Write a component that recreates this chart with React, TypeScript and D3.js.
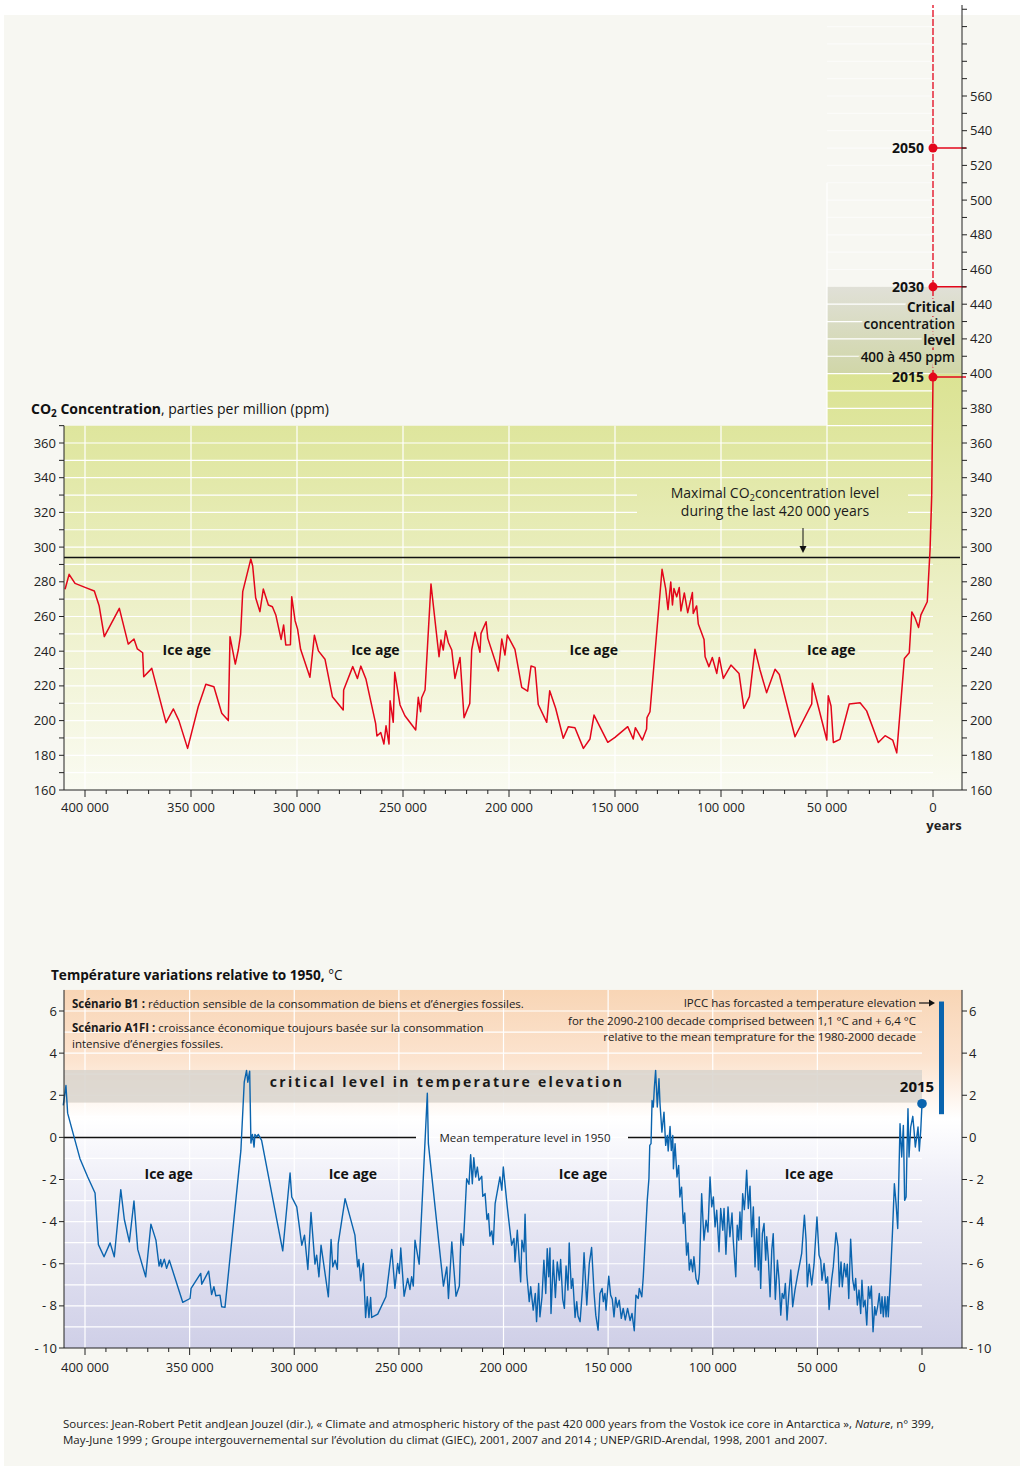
import React from "react";
import * as d3 from "d3";

const FONT = "'Open Sans', 'Noto Sans', sans-serif";

// Vostok CO2, thousands of years before present / ppm
const co2Kyr = [
  409.4, 407.5, 404.7, 400, 395.6, 393.3, 390.9, 383.8, 379.6, 376.9, 375.3, 372.8, 372.3, 368.5,
  361.8, 358.3, 355.7, 351.6, 346.6, 343, 339.2, 335.5, 332.4, 331.6, 329.1, 327.7, 326.6, 325.6,
  321.8, 320.9, 319.5, 317.5, 315.9, 313.5, 311.6, 310, 307.5, 306.3, 305.3, 303.1, 302.5, 300.9,
  299.7, 298.3, 293.9, 291.8, 289.9, 286.8, 283.3, 278.2, 278, 273.7, 271.5, 269.9, 267.5, 262.9,
  262.3, 260.5, 259, 258, 256.6, 256.1, 254.6, 253.9, 251.4, 249.1, 244, 242.8, 241.7, 241.2,
  239.6, 236.8, 233, 232.1, 231, 229.9, 228.6, 227, 225.5, 223.1, 221.2, 218.5, 217.6, 216,
  213.7, 213.2, 210.8, 210, 205, 203.4, 201.9, 200.8, 197.2, 194, 191.2, 189.6, 187.7, 186.2,
  182.2, 180.8, 178, 174.4, 172, 168.9, 164.9, 161.8, 159.9, 153.4, 150, 144, 141.4, 140.4,
  137.1, 135.1, 134.9, 133.5, 127.8, 126.1, 125, 123.7, 122.9, 122.2, 120.9, 119.7, 118.9, 117.3,
  115.7, 113.5, 113.1, 111.5, 110.7, 108, 107.5, 105.7, 104.1, 102, 100.8, 98.9, 95.3, 91.5,
  89.2, 86.6, 84, 81.6, 78.5, 74.5, 72.5, 65.1, 57.2, 56.9, 50.1, 49.4, 48.1, 47, 43.9, 39.5,
  34.4, 31.3, 25.8, 22.6, 19, 17.1, 13.5, 11.2, 10, 8.5, 6.8, 5.7, 2.7, 1.4, 0.6, 0,
];
const co2Ppm = [
  275.7, 284.3, 279.1, 276.8, 274.7, 266, 248.4, 264.7, 244.1, 247, 241.3, 239.1, 225.3, 230.1,
  198.8, 206.7, 200, 184, 208, 220.9, 219.5, 204.2, 200, 248.4, 232.6, 240.7, 249.7, 274.3,
  293.1, 289.1, 270.8, 262.8, 275.8, 266.6, 265.6, 260.9, 246.8, 255.1, 243.6, 243.7, 271.4, 257.6,
  252.6, 241.1, 225, 249.2, 240.2, 235.4, 213.8, 206.1, 217.6, 231.1, 224.3, 231.4, 224, 198.3,
  191.1, 193.1, 186.5, 197, 186.5, 211.5, 199, 227.8, 209, 202.8, 194.6, 213.4, 205.1, 213.2,
  217.6, 278.7, 236.8, 246.5, 240.7, 251.8, 245, 240.7, 224.3, 236.4, 201.7, 209.9, 240.7, 251,
  239.4, 250.3, 257, 247.4, 228.6, 247, 237.8, 249.3, 241.1, 219.2, 217, 231.5, 230.7, 209.3,
  199, 217.2, 207.1, 189.8, 196.5, 195.9, 184, 189.4, 203.2, 187.5, 190.3, 196.5, 189.4, 195.9,
  188.8, 195.1, 201.7, 205.1, 287.2, 276.1, 264, 279.9, 266.6, 276.1, 271.4, 276.7, 263.2, 273.6,
  262.2, 273.8, 261.8, 266.1, 255.7, 246.8, 236.8, 231.1, 236.4, 227.2, 236.4, 224.3, 232, 227.2,
  207.1, 213.8, 241.1, 229.2, 216.1, 229.6, 226.6, 190.7, 209.6, 221.5, 188.8, 214.3, 208.4, 187.4, 189.2, 209.6,
  210.3, 205.6, 187.4, 191.3, 188.8, 181.4, 235.8, 239.1, 262.6, 259.3, 253.7, 260.9, 268.5, 298.3, 330, 398,
];

// measured 2015 level and projections
const projYears = ["2015", "2030", "2050"];
const projPpm = [398, 450, 530];

// Vostok temperature, thousands of years before present / °C relative to 1950
const tempKyr = [
  410.4, 409.1, 408.3, 405.3, 402.4, 398.7, 395.2, 393.6, 390.9, 388, 386, 382.9, 381.2, 378.8,
  376.6, 374.8, 371, 368.5, 366.1, 364.6, 363.8, 363.4, 362.1, 361, 359.7, 353.3, 349.8, 349.3,
  344.7, 344.2, 340.9, 339.5, 338.4, 337.5, 335.5, 334.7, 333.1, 325.5, 323.9, 322.8, 322.2, 321.3,
  320.7, 320, 319.2, 318.8, 317.9, 317.2, 315.6, 305.5, 302, 301.2, 298.8, 296.4, 295.1, 293.5,
  292, 290.1, 289.3, 288.2, 287.2, 283.7, 282.4, 281.6, 280.5, 279.4, 279, 275.7, 271, 269.7,
  269.1, 268.3, 267, 265.9, 265.1, 264.3, 263.5, 263, 260.1, 256.2, 253.4, 251.9, 250.6, 249.8,
  249.1, 247.5, 245.8, 244.7, 243.9, 243.1, 242.3, 240.3, 236.4, 235.9, 228.7, 227.1, 226.3, 224.7,
  222.7, 221.1, 220.3, 219.2, 217.6, 216.5, 215.7, 214.9, 214.2, 213.3, 212.5, 211.7, 210.4, 209.9,
  208.8, 207.9, 207.2, 206.5, 205.6, 204.9, 204, 201.7, 200.8, 200.1, 198.2, 196.1, 195, 194.5,
  193.4, 191.8, 191.2, 190.2, 189.7, 188.9, 187.7, 187, 185.8, 184.8, 184.2, 183.2, 182.6, 181.6,
  180.7, 179.8, 179.1, 178.4, 177.8, 177.3, 176.2, 175.2, 174.3, 173.3, 172.7, 171.7, 170.9, 170.1,
  169.2, 168.6, 167.6, 166.9, 165.8, 165, 164.4, 163.4, 162.3, 161.5, 160.2, 159, 157.9, 156.7,
  155.9, 154.8, 153.9, 152.9, 152.3, 151.5, 151, 149.7, 148.8, 148, 147.2, 146.4, 145.6, 144.7,
  143.7, 142.8, 141.8, 140.7, 139.5, 138.6, 137.5, 136.7, 135.6, 135.1, 133.9, 133.2, 131.3, 130.5,
  130.1, 129.5, 129, 128.4, 127.9, 127.3, 126.5, 125.7, 125.2, 124.3, 123.3, 122.5, 121.7, 121.3,
  120.4, 119.8, 119.1, 118.8, 118, 117.1, 116.3, 115.7, 114.9, 114.1, 113.4, 112.5, 111.8, 111.2,
  110.4, 109.6, 109, 108, 107, 106.4, 105.3, 104.2, 103.2, 102.3, 101.3, 100.5, 99.7, 98.9,
  98.1, 97, 96.2, 95.2, 94.6, 93.7, 92.7, 91.8, 90.8, 90.2, 89, 88.3, 87.6, 87,
  86.4, 85.7, 84.9, 84.4, 83.8, 83, 82.2, 81.4, 80.6, 79.8, 79, 78.2, 77.8, 77.1,
  76.3, 75.5, 74.7, 74.2, 73.4, 72.6, 71.8, 71.1, 70.1, 69.1, 68.3, 67.5, 66.8, 66,
  65.3, 64.5, 63.7, 62.7, 61.8, 60.7, 59.6, 57.5, 56.2, 55.4, 54.8, 53.9, 52.7, 51.6,
  50.2, 49.2, 48.4, 47.8, 46.8, 45.9, 45.1, 44.4, 43.2, 42.4, 41.1, 40.1, 39.5, 38.7,
  38.1, 37.1, 36.3, 35.7, 35, 34.1, 33.1, 32.3, 31.7, 30.9, 30.1, 29.3, 28.7, 28,
  27.2, 26.4, 25.6, 24.9, 24.2, 23.4, 22.6, 22, 21.2, 20.4, 19.7, 19.1, 18.5, 17.7,
  17.2, 16.4, 16.1, 15, 14, 13.2, 12.4, 11.6, 10.5, 9.7, 8.9, 8.3, 7.6, 7.2,
  6.7, 6.2, 5.4, 4.4, 3.8, 3.2, 2.5, 1.9, 1.3, 0.6, 0,
];
const tempC = [
  1.52, 2.46, 1.15, 0.05, -1.01, -1.88, -2.64, -5.09, -5.67, -5.01, -5.67, -2.48, -3.9, -4.96,
  -3.02, -5.32, -6.62, -4.12, -4.88, -6.11, -5.8, -6.15, -5.78, -6.22, -5.83, -7.83, -7.65, -7.17,
  -6.46, -6.97, -6.35, -7.46, -7.09, -7.52, -7.49, -8.04, -8.07, -0.62, 2.62, 3.18, 2.62, 3.14,
  -0.27, 0.14, -0.46, 0.14, 0.02, 0.14, -0.14, -5.39, -1.69, -2.83, -3.3, -5.12, -4.64, -6.27,
  -3.57, -6.02, -5.59, -6.62, -5.12, -7.57, -4.85, -6.15, -5.83, -6.26, -5.04, -2.91, -4.64, -6.15,
  -5.8, -6.81, -5.99, -8.55, -7.57, -8.55, -7.6, -8.55, -8.39, -7.57, -5.32, -7.17, -5.99, -6.46,
  -5.25, -7.54, -6.7, -7.22, -6.62, -7.06, -4.88, -6.02, 2.1, -0.3, -7.06, -6.15, -7.65, -4.96,
  -7.54, -7.06, -4.57, -5.12, -1.96, -2.23, -0.82, -2.2, -0.96, -1.88, -1.41, -2.04, -1.85, -2.8,
  -2.67, -3.9, -3.62, -4.69, -4.44, -5.09, -3.14, -1.88, -2.51, -1.41, -3.3, -5.12, -4.8, -5.91,
  -4.41, -6.86, -4.88, -5.43, -3.65, -6.46, -7.8, -7.09, -8.2, -7.41, -8.75, -6.93, -8.52, -7.57,
  -5.83, -7.41, -5.28, -6.62, -5.25, -8.36, -5.83, -7.6, -5.91, -6.78, -5.8, -7.69, -8.12, -6.11,
  -7.25, -5.01, -7.17, -6.7, -8.55, -7.8, -8.48, -8.75, -7.25, -5.48, -7.96, -5.99, -5.23, -7.41,
  -8.44, -9.15, -7.41, -7.17, -7.8, -7.41, -8.2, -6.59, -7.49, -7.69, -8.52, -7.6, -8.07, -7.73,
  -8.59, -8.12, -8.67, -8.12, -8.7, -8.36, -9.18, -7.49, -7.65, -7.17, -7.57, -6.62, -2.99, -1.96,
  -0.38, -0.3, 1.75, 1.44, 2.38, 3.18, 1.44, 2.78, 1.6, 0.25, 1.2, -0.38, 0.09, -0.65,
  0.52, -0.62, 0.09, -1.49, -0.3, -1.88, -1.33, -2.83, -2.36, -4.09, -3.59, -5.59, -5.01, -6.3,
  -5.8, -6.38, -5.67, -6.7, -6.97, -6.46, -2.67, -4.88, -3.93, -4.49, -1.88, -3.3, -2.83, -4.25,
  -3.46, -5.43, -3.38, -4.41, -3.38, -5.55, -3.3, -4.72, -3.59, -4.88, -6.62, -4.17, -4.88, -3.54,
  -4.85, -2.67, -3.43, -2.75, -1.56, -3.38, -2.32, -4.72, -3.3, -6.15, -4.33, -6.3, -3.78, -7.17,
  -4.57, -4.09, -5.83, -4.72, -5.83, -7.57, -5.36, -4.57, -7.69, -5.83, -6.78, -8.44, -7.41, -7.65,
  -6.93, -8.67, -7.49, -6.3, -8.04, -7.25, -6.62, -5.51, -3.7, -4.88, -7.09, -6.02, -7.01, -6.02,
  -3.78, -5.59, -5.83, -6.78, -5.99, -6.93, -6.62, -8.17, -6.78, -6.15, -4.53, -5.2, -7.09, -5.91,
  -7.09, -5.99, -6.62, -6.02, -7.65, -4.83, -6.78, -7.25, -6.7, -7.96, -7.25, -8.36, -6.78, -8.04,
  -7.73, -8.91, -7.09, -7.65, -7.06, -9.23, -8.04, -8.44, -8.04, -7.41, -8.36, -7.57, -8.52, -7.57,
  -8.52, -7.57, -8.52, -6.46, -4.25, -2.2, -3.14, -4.33, 0.65, -0.93, 0.57, -2.99, -2.83, -0.77,
  1.36, -0.93, 0.49, 1.0, 0.33, -0.46, 0.02, 0.49, -0.65, 0.33, 1.6,
];

const temp2015 = 1.6;
const ipccRange = [1.1, 6.45];
const co2MaxLevel = 294;
const criticalCo2 = [400, 450];
const criticalTemp = [1.65, 3.2];

const fmtKyr = (k: number) => (k === 0 ? "0" : `${k} 000`);
const fmtTemp = (v: number) => (v < 0 ? `- ${-v}` : `${v}`);

export default function App() {
  const xC = d3.scaleLinear().domain([400, 0]).range([85, 933]);
  const yC = d3.scaleLinear().domain([160, 360]).range([790, 443]);
  const xT = d3.scaleLinear().domain([400, 0]).range([85, 922]);
  const yT = d3.scaleLinear().domain([-10, 6]).range([1348, 1011]);

  const co2Path =
    d3.line<number>().x((_, i) => xC(co2Kyr[i])).y((d) => yC(d))(co2Ppm) || "";
  const tempPath =
    d3.line<number>().x((_, i) => xT(tempKyr[i])).y((d) => yT(d))(tempC) || "";

  // co2 frame
  const cL = 64, cR = 962, cB = yC(160), cTop = yC(370);
  const c50 = xC(50), c0 = xC(0);
  // temp frame
  const tL = 64, tR = 962, tB = yT(-10), tTop = yT(7), t0 = xT(0);

  const kyrTicks = d3.range(400, -1, -10);
  const majors = d3.range(400, -1, -50);

  return (
    <div style={{ position: "absolute", left: 0, top: 0 }}>
      <svg width={1024} height={1468} fontFamily={FONT} style={{ display: "block", background: "#fff" }}>
        <defs>
          <linearGradient id="greenGrad" gradientUnits="userSpaceOnUse" x1={0} y1={yC(400)} x2={0} y2={cB}>
            <stop offset="0" stopColor="#dbe393" />
            <stop offset="0.15" stopColor="#dfe69f" />
            <stop offset="0.55" stopColor="#edf0c8" />
            <stop offset="1" stopColor="#fafbf2" />
          </linearGradient>
          <linearGradient id="bandGrad" gradientUnits="userSpaceOnUse" x1={0} y1={yC(450)} x2={0} y2={yC(400)}>
            <stop offset="0" stopColor="#e0e0d7" />
            <stop offset="1" stopColor="#d0d6a8" />
          </linearGradient>
          <linearGradient id="tempGrad" gradientUnits="userSpaceOnUse" x1={0} y1={tTop} x2={0} y2={tB}>
            <stop offset="0" stopColor="#f8d5b5" />
            <stop offset="0.2" stopColor="#fce4d0" />
            <stop offset="0.36" stopColor="#ffffff" />
            <stop offset="0.55" stopColor="#ededf7" />
            <stop offset="1" stopColor="#cfcfe7" />
          </linearGradient>
        </defs>

        <rect x={4} y={15} width={1016} height={1451} fill="#f7f7f2" />

        {/* ---------------- CO2 chart ---------------- */}
        <path
          d={`M${cL},${cTop}H${c50}V${yC(criticalCo2[0])}H${cR}V${cB}H${cL}Z`}
          fill="url(#greenGrad)"
        />
        <rect
          x={c50}
          y={yC(criticalCo2[1])}
          width={cR - c50}
          height={yC(criticalCo2[0]) - yC(criticalCo2[1])}
          fill="url(#bandGrad)"
        />
        <g stroke="#fff" strokeWidth={1.2}>
          {d3.range(170, 370, 10).map((v) => (
            <line key={v} x1={cL} x2={c0} y1={yC(v)} y2={yC(v)} />
          ))}
          {d3.range(370, 450, 10).map((v) => (
            <line key={v} x1={c50} x2={c0} y1={yC(v)} y2={yC(v)} />
          ))}
          {d3.range(460, 620, 10).map((v) => (
            <line key={v} x1={c50} x2={c0} y1={yC(v)} y2={yC(v)} opacity={0.6} />
          ))}
        </g>
        <rect x={637} y={483} width={271} height={38} fill="url(#greenGrad)" />
        <g stroke="#fff" strokeWidth={1.2}>
          {d3.range(400, 99, -50).map((k) => (
            <line key={k} x1={xC(k)} x2={xC(k)} y1={cTop} y2={cB} />
          ))}
          <line x1={c50} x2={c50} y1={yC(510)} y2={cB} />
        </g>

        {/* maximal level */}
        <line x1={cL} x2={cR - 2} y1={yC(co2MaxLevel)} y2={yC(co2MaxLevel)} stroke="#111" strokeWidth={1.5} />
        <g fontSize={14} fill="#1a1a1a" textAnchor="middle">
          <text x={775} y={498}>
            Maximal CO<tspan dy={2.5} fontSize={9.5}>2</tspan>
            <tspan dy={-2.5}>concentration level</tspan>
          </text>
          <text x={775} y={516}>during the last 420 000 years</text>
        </g>
        <line x1={803} x2={803} y1={528} y2={547} stroke="#111" strokeWidth={1} />
        <path d="M799.5,546L806.5,546L803,553Z" fill="#111" />

        {/* ice age labels */}
        <g fontSize={14} fontWeight={700} fill="#111" textAnchor="middle" stroke="url(#greenGrad)" strokeWidth={6} paintOrder="stroke">
          {[352, 263, 160, 48].map((k) => (
            <text key={k} x={xC(k)} y={655}>Ice age</text>
          ))}
        </g>

        {/* projections */}
        <line
          x1={c0}
          x2={c0}
          y1={yC(projPpm[0])}
          y2={5}
          stroke="#e3061b"
          strokeWidth={1.3}
          strokeDasharray="7 2"
        />
        <path d={co2Path} fill="none" stroke="#e3061b" strokeWidth={1.5} strokeLinejoin="round" />
        {projPpm.map((v, i) => (
          <g key={v}>
            <line x1={c0} x2={cR + 4} y1={yC(v)} y2={yC(v)} stroke="#e3061b" strokeWidth={1.5} />
            <circle cx={c0} cy={yC(v)} r={4.5} fill="#e3061b" />
            <text
              x={c0 - 9}
              y={yC(v) + 5}
              textAnchor="end"
              fontSize={14}
              fontWeight={700}
              fill="#111"
            >
              {projYears[i]}
            </text>
          </g>
        ))}
        <g fontSize={13.5} fill="#111" textAnchor="end" stroke="url(#bandGrad)" strokeWidth={5} paintOrder="stroke">
          <text x={955} y={312} fontWeight={700}>Critical</text>
          <text x={955} y={329} fontWeight={600}>concentration</text>
          <text x={955} y={345} fontWeight={700}>level</text>
          <text x={955} y={362} fontWeight={600}>400 à 450 ppm</text>
        </g>

        {/* CO2 axes */}
        <g stroke="#222" strokeWidth={1} fill="none">
          <line x1={cL} x2={cL} y1={cTop} y2={cB} />
          <line x1={cR} x2={cR} y1={5} y2={cB} />
          <line x1={cL} x2={cR} y1={cB} y2={cB} />
          {d3.range(160, 371, 10).map((v) => (
            <line key={"l" + v} x1={cL - 5} x2={cL} y1={yC(v)} y2={yC(v)} />
          ))}
          {d3.range(160, 611, 10).map((v) => (
            <line key={"r" + v} x1={cR} x2={cR + 5} y1={yC(v)} y2={yC(v)} />
          ))}
          {kyrTicks.map((k) => (
            <line key={"b" + k} x1={xC(k)} x2={xC(k)} y1={cB} y2={cB + (k % 50 === 0 ? 7 : 4)} />
          ))}
        </g>
        <g fontSize={13} fill="#222">
          {d3.range(160, 361, 20).map((v) => (
            <text key={"l" + v} x={cL - 8} y={yC(v) + 4.5} textAnchor="end">{v}</text>
          ))}
          {d3.range(160, 561, 20).map((v) => (
            <text key={"r" + v} x={cR + 8} y={yC(v) + 4.5}>{v}</text>
          ))}
          {majors.map((k) => (
            <text key={"b" + k} x={xC(k)} y={cB + 22} textAnchor="middle">{fmtKyr(k)}</text>
          ))}
          <text x={944} y={830} textAnchor="middle" fontWeight={700}>years</text>
        </g>

        <text x={31} y={414} fontSize={14} fill="#111">
          <tspan fontWeight={700}>CO</tspan>
          <tspan fontWeight={700} dy={3} fontSize={10}>2</tspan>
          <tspan fontWeight={700} dy={-3}> Concentration</tspan>
          <tspan>, parties per million (ppm)</tspan>
        </text>

        {/* ---------------- Temperature chart ---------------- */}
        <text x={51} y={980} fontSize={13.6} fill="#111">
          <tspan fontWeight={700}>Température variations relative to 1950,</tspan>
          <tspan> °C</tspan>
        </text>
        <rect x={tL} y={tTop} width={tR - tL} height={tB - tTop} fill="url(#tempGrad)" />
        <g stroke="#fff" strokeWidth={1.2}>
          {d3.range(-9, 7, 1).map((v) => (
            <line key={v} x1={tL} x2={t0} y1={yT(v)} y2={yT(v)} />
          ))}
          {d3.range(400, 49, -50).map((k) => (
            <line key={k} x1={xT(k)} x2={xT(k)} y1={tTop} y2={tB} />
          ))}
        </g>
        <rect
          x={tL}
          y={yT(criticalTemp[1])}
          width={t0 - tL}
          height={yT(criticalTemp[0]) - yT(criticalTemp[1])}
          fill="#d8d4cd"
          opacity={0.85}
        />
        <text
          x={447}
          y={1087}
          textAnchor="middle"
          fontSize={14}
          fontWeight={700}
          fill="#1a1a1a"
          letterSpacing={2.3}
        >
          critical level in temperature elevation
        </text>

        {/* scenario notes */}
        <g fontSize={11.5} fill="#1a1a1a">
          <text x={72} y={1008}>
            <tspan fontWeight={700}>Scénario B1 :</tspan> réduction sensible de la consommation de biens et d’énergies fossiles.
          </text>
          <text x={72} y={1032}>
            <tspan fontWeight={700}>Scénario A1FI :</tspan> croissance économique toujours basée sur la consommation
          </text>
          <text x={72} y={1048}>intensive d’énergies fossiles.</text>
        </g>
        <g fontSize={11.5} fill="#1a1a1a" textAnchor="end">
          <text x={916} y={1007}>IPCC has forcasted a temperature elevation</text>
          <text x={916} y={1025}>for the 2090-2100  decade comprised between 1,1 °C and + 6,4 °C</text>
          <text x={916} y={1041}>relative to the mean temprature for the 1980-2000 decade</text>
        </g>
        <line x1={919} x2={930} y1={1003} y2={1003} stroke="#111" strokeWidth={1.2} />
        <path d="M929,999.5L935,1003L929,1006.5Z" fill="#111" />

        {/* mean 1950 */}
        <line x1={tL} x2={416} y1={yT(0)} y2={yT(0)} stroke="#111" strokeWidth={1.5} />
        <line x1={628} x2={t0} y1={yT(0)} y2={yT(0)} stroke="#111" strokeWidth={1.5} />
        <text x={525} y={yT(0) + 4.5} textAnchor="middle" fontSize={11.5} fill="#1a1a1a">
          Mean temperature level in 1950
        </text>

        <g fontSize={14} fontWeight={700} fill="#111" textAnchor="middle">
          {[360, 272, 162, 54].map((k) => (
            <text key={k} x={xT(k)} y={1179}>Ice age</text>
          ))}
        </g>

        <path d={tempPath} fill="none" stroke="#0a64ae" strokeWidth={1.4} strokeLinejoin="round" />
        <circle cx={t0} cy={yT(temp2015)} r={4.8} fill="#0a64ae" />
        <text x={917} y={1092} textAnchor="middle" fontSize={15} fontWeight={700} fill="#111">2015</text>
        <rect
          x={939}
          y={yT(ipccRange[1])}
          width={5}
          height={yT(ipccRange[0]) - yT(ipccRange[1])}
          fill="#0a64ae"
        />

        {/* temperature axes */}
        <g stroke="#222" strokeWidth={1} fill="none">
          <line x1={tL} x2={tL} y1={tTop} y2={tB} />
          <line x1={tR} x2={tR} y1={tTop} y2={tB} />
          <line x1={tL} x2={tR} y1={tB} y2={tB} />
          {d3.range(-10, 7, 2).map((v) => (
            <g key={v}>
              <line x1={tL - 5} x2={tL} y1={yT(v)} y2={yT(v)} />
              <line x1={tR} x2={tR + 5} y1={yT(v)} y2={yT(v)} />
            </g>
          ))}
          {kyrTicks.map((k) => (
            <line key={k} x1={xT(k)} x2={xT(k)} y1={tB} y2={tB + (k % 50 === 0 ? 7 : 4)} />
          ))}
        </g>
        <g fontSize={13} fill="#222">
          {d3.range(-10, 7, 2).map((v) => (
            <g key={v}>
              <text x={tL - 7} y={yT(v) + 4.5} textAnchor="end">{fmtTemp(v)}</text>
              <text x={tR + 7} y={yT(v) + 4.5}>{fmtTemp(v)}</text>
            </g>
          ))}
          {majors.map((k) => (
            <text key={k} x={xT(k)} y={tB + 24} textAnchor="middle">{fmtKyr(k)}</text>
          ))}
        </g>

        {/* sources */}
        <g fontSize={11.5} fill="#1a1a1a">
          <text x={63} y={1428}>
            Sources: Jean-Robert Petit andJean Jouzel (dir.), « Climate and atmospheric history of the past 420 000 years from the Vostok ice core in Antarctica »,{" "}
            <tspan fontStyle="italic">Nature</tspan>, n° 399,
          </text>
          <text x={63} y={1444}>
            May-June 1999 ; Groupe intergouvernemental sur l’évolution du climat (GIEC), 2001, 2007 and 2014 ; UNEP/GRID-Arendal, 1998, 2001 and 2007.
          </text>
        </g>
      </svg>
    </div>
  );
}
